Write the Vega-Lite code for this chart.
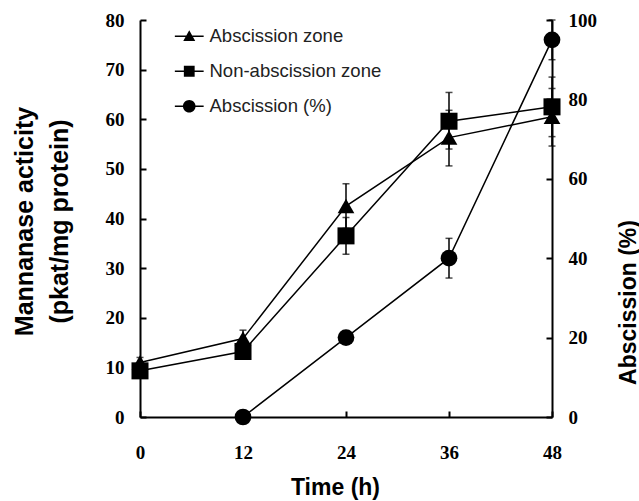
{
  "$schema": "https://vega.github.io/schema/vega-lite/v6.json",
  "width": 412,
  "height": 397,
  "autosize": "none",
  "padding": {"left": 140, "top": 20, "right": 87, "bottom": 84},
  "background": "white",
  "config": {
    "view": {"stroke": null},
    "axis": {
      "grid": false,
      "domainColor": "black",
      "domainWidth": 2,
      "tickColor": "black",
      "tickWidth": 2,
      "tickSize": -6,
      "labelFont": "Liberation Serif",
      "labelFontWeight": "bold",
      "labelFontSize": 19,
      "labelColor": "black",
      "labelFlush": false,
      "titleFont": "Liberation Sans",
      "titleFontWeight": "bold",
      "titleFontSize": 23,
      "titleColor": "black"
    }
  },
  "datasets": {
    "enzyme": [
      {"series": "Abscission zone", "t": 0, "v": 11.0, "lo": 10.0, "hi": 12.0},
      {"series": "Abscission zone", "t": 12, "v": 15.8, "lo": 14.1, "hi": 17.5},
      {"series": "Abscission zone", "t": 24, "v": 42.5, "lo": 38.0, "hi": 47.0},
      {"series": "Abscission zone", "t": 36, "v": 56.3, "lo": 50.6, "hi": 61.8},
      {"series": "Abscission zone", "t": 48, "v": 60.5, "lo": 54.6, "hi": 66.2},
      {"series": "Non-abscission zone", "t": 0, "v": 9.3, "lo": 8.3, "hi": 10.3},
      {"series": "Non-abscission zone", "t": 12, "v": 13.2, "lo": 12.0, "hi": 14.4},
      {"series": "Non-abscission zone", "t": 24, "v": 36.5, "lo": 32.8, "hi": 40.2},
      {"series": "Non-abscission zone", "t": 36, "v": 59.6, "lo": 54.0, "hi": 65.4},
      {"series": "Non-abscission zone", "t": 48, "v": 62.5, "lo": 56.5, "hi": 68.5}
    ],
    "abscission": [
      {"series": "Abscission (%)", "t": 12, "v": 0, "lo": 0, "hi": 0},
      {"series": "Abscission (%)", "t": 24, "v": 20, "lo": 20, "hi": 20},
      {"series": "Abscission (%)", "t": 36, "v": 40, "lo": 35, "hi": 45},
      {"series": "Abscission (%)", "t": 48, "v": 95, "lo": 90, "hi": 100}
    ]
  },
  "encoding": {
    "x": {
      "field": "t",
      "type": "quantitative",
      "scale": {"domain": [0, 48], "nice": false},
      "axis": {
        "values": [0, 12, 24, 36, 48],
        "title": "Time (h)",
        "labelPadding": 32,
        "labelFlush": false,
        "titleX": 195,
        "titleY": 70,
        "titleBaseline": "middle",
        "titleAlign": "center"
      }
    }
  },
  "layer": [
    {
      "data": {"name": "enzyme"},
      "encoding": {
        "y": {
          "field": "v",
          "type": "quantitative",
          "scale": {"domain": [0, 80], "nice": false},
          "axis": {
            "orient": "left",
            "values": [0, 10, 20, 30, 40, 50, 60, 70, 80],
            "title": ["Mannanase acticity", "(pkat/mg  protein)"],
            "labelPadding": 22,
            "titleAngle": -90,
            "titleX": -116,
            "titleY": 201,
            "titleAlign": "center",
            "titleBaseline": "middle",
            "titleLineHeight": 35,
            "titleFontSize": 25
          }
        }
      },
      "layer": [
        {
          "mark": {"type": "line", "color": "black", "strokeWidth": 1.5},
          "encoding": {"detail": {"field": "series"}}
        },
        {
          "mark": {"type": "rule", "color": "black", "strokeWidth": 1.5},
          "encoding": {"y": {"field": "lo", "type": "quantitative"}, "y2": {"field": "hi"}}
        },
        {
          "mark": {"type": "tick", "orient": "horizontal", "color": "black", "size": 7, "thickness": 1.5},
          "encoding": {"y": {"field": "lo", "type": "quantitative"}}
        },
        {
          "mark": {"type": "tick", "orient": "horizontal", "color": "black", "size": 7, "thickness": 1.5},
          "encoding": {"y": {"field": "hi", "type": "quantitative"}}
        },
        {
          "transform": [{"filter": "datum.series == 'Abscission zone'"}],
          "mark": {"type": "point", "filled": true, "color": "black", "opacity": 1, "size": 280, "shape": "triangle-up"},
          "encoding": {}
        },
        {
          "transform": [{"filter": "datum.series == 'Non-abscission zone'"}],
          "mark": {"type": "point", "filled": true, "color": "black", "opacity": 1, "size": 290, "shape": "square"},
          "encoding": {}
        }
      ]
    },
    {
      "layer": [
        {
          "data": {"name": "abscission"},
          "encoding": {
            "y": {
              "field": "v",
              "type": "quantitative",
              "scale": {"domain": [0, 100], "nice": false},
              "axis": {
                "orient": "right",
                "values": [0, 20, 40, 60, 80, 100],
                "title": "Abscission (%)",
                "labelPadding": 22,
                "titleAngle": -90,
                "titleX": 76,
                "titleY": 282,
                "titleAlign": "center",
                "titleBaseline": "middle"
              }
            }
          },
          "layer": [
            {
              "mark": {"type": "line", "color": "black", "strokeWidth": 1.5},
              "encoding": {}
            },
            {
              "mark": {"type": "rule", "color": "black", "strokeWidth": 1.5},
              "encoding": {"y": {"field": "lo", "type": "quantitative"}, "y2": {"field": "hi"}}
            },
            {
              "mark": {"type": "tick", "orient": "horizontal", "color": "black", "size": 7, "thickness": 1.5},
              "encoding": {"y": {"field": "lo", "type": "quantitative"}}
            },
            {
              "mark": {"type": "tick", "orient": "horizontal", "color": "black", "size": 7, "thickness": 1.5},
              "encoding": {"y": {"field": "hi", "type": "quantitative"}}
            },
            {
              "mark": {"type": "point", "filled": true, "color": "black", "opacity": 1, "size": 280, "shape": "circle"},
              "encoding": {}
            }
          ]
        },
        {
          "data": {"values": []},
          "mark": {"type": "point", "filled": true, "color": "black", "opacity": 1},
          "encoding": {
            "shape": {
              "field": "series",
              "type": "nominal",
              "scale": {
                "domain": ["Abscission zone", "Non-abscission zone", "Abscission (%)"],
                "range": [
                  "M-2.4,-0.13L2.4,-0.13L2.4,0.13L-2.4,0.13ZM-1,0.8L0,-1L1,0.8Z",
                  "M-2.4,-0.13L2.4,-0.13L2.4,0.13L-2.4,0.13ZM-0.9,-0.9L0.9,-0.9L0.9,0.9L-0.9,0.9Z",
                  "M-2.4,-0.13L2.4,-0.13L2.4,0.13L-2.4,0.13ZM-1.05,0A1.05,1.05,0,1,1,1.05,0A1.05,1.05,0,1,1,-1.05,0Z"
                ]
              },
              "legend": {
                "title": null,
                "orient": "none",
                "legendX": 40,
                "legendY": 7,
                "padding": 0,
                "symbolSize": 144,
                "symbolFillColor": "black",
                "symbolStrokeColor": "black",
                "symbolStrokeWidth": 1,
                "symbolOpacity": 1,
                "labelFont": "Liberation Sans",
                "labelFontSize": 18.5,
                "labelColor": "#222",
                "labelOffset": 11,
                "labelLimit": 400,
                "rowPadding": 16,
                "encode": {
                  "symbols": {
                    "update": {
                      "stroke": {"value": "black"},
                      "strokeWidth": {"value": 1},
                      "fill": {"value": "black"}
                    }
                  }
                }
              }
            }
          }
        }
      ]
    }
  ],
  "resolve": {"scale": {"y": "independent"}}
}
